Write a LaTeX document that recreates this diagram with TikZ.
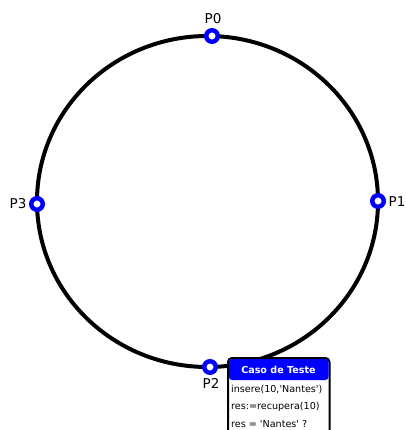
\documentclass[tikz,border=0pt]{standalone}
\usepackage{fontspec}
\setmainfont{DejaVu Sans}
\begin{document}
\begin{tikzpicture}[x=1pt,y=-1pt,
  ring/.style={circle,draw=blue,line width=4.5pt,fill=white,minimum size=11.5pt,inner sep=0pt},
  lbl/.style={font=\fontsize{13.5}{15}\selectfont,inner sep=0pt},
  boxtxt/.style={font=\fontsize{9.6}{11}\selectfont,inner sep=0pt,anchor=west},
]
\useasboundingbox (0,0) rectangle (405,430);
\begin{scope}
\clip (0,0) rectangle (405,430);
\draw[line width=4pt] (207.5,201.5) ellipse [x radius=170.5pt, y radius=165.5pt];
\node[ring] (p0) at (212,36) {};
\node[ring] (p1) at (378,201) {};
\node[ring] (p2) at (210,367) {};
\node[ring] (p3) at (37,204) {};
\node[lbl] (l0) at (213,19) {P0};
\node[lbl] (l1) at (397,202) {P1};
\node[lbl] (l2) at (211,383) {P2};
\node[lbl] (l3) at (18,204) {P3};
\draw[line width=2pt,fill=white,rounded corners=4pt] (228,358) rectangle (329.5,445);
\fill[blue,rounded corners=3pt] (229,359) rectangle (328.5,380);
\node[font=\fontsize{9.6}{11}\selectfont\bfseries,text=white,inner sep=0pt] (hd) at (278.5,369.5) {Caso de Teste};
\node[boxtxt] (t1) at (231,389.5) {insere(10,\textquotesingle Nantes\textquotesingle)};
\node[boxtxt] (t2) at (231,407) {res:=recupera(10)};
\node[boxtxt] (t3) at (231,424.5) {res = \textquotesingle Nantes\textquotesingle\ ?};
\end{scope}
\end{tikzpicture}
\end{document}
